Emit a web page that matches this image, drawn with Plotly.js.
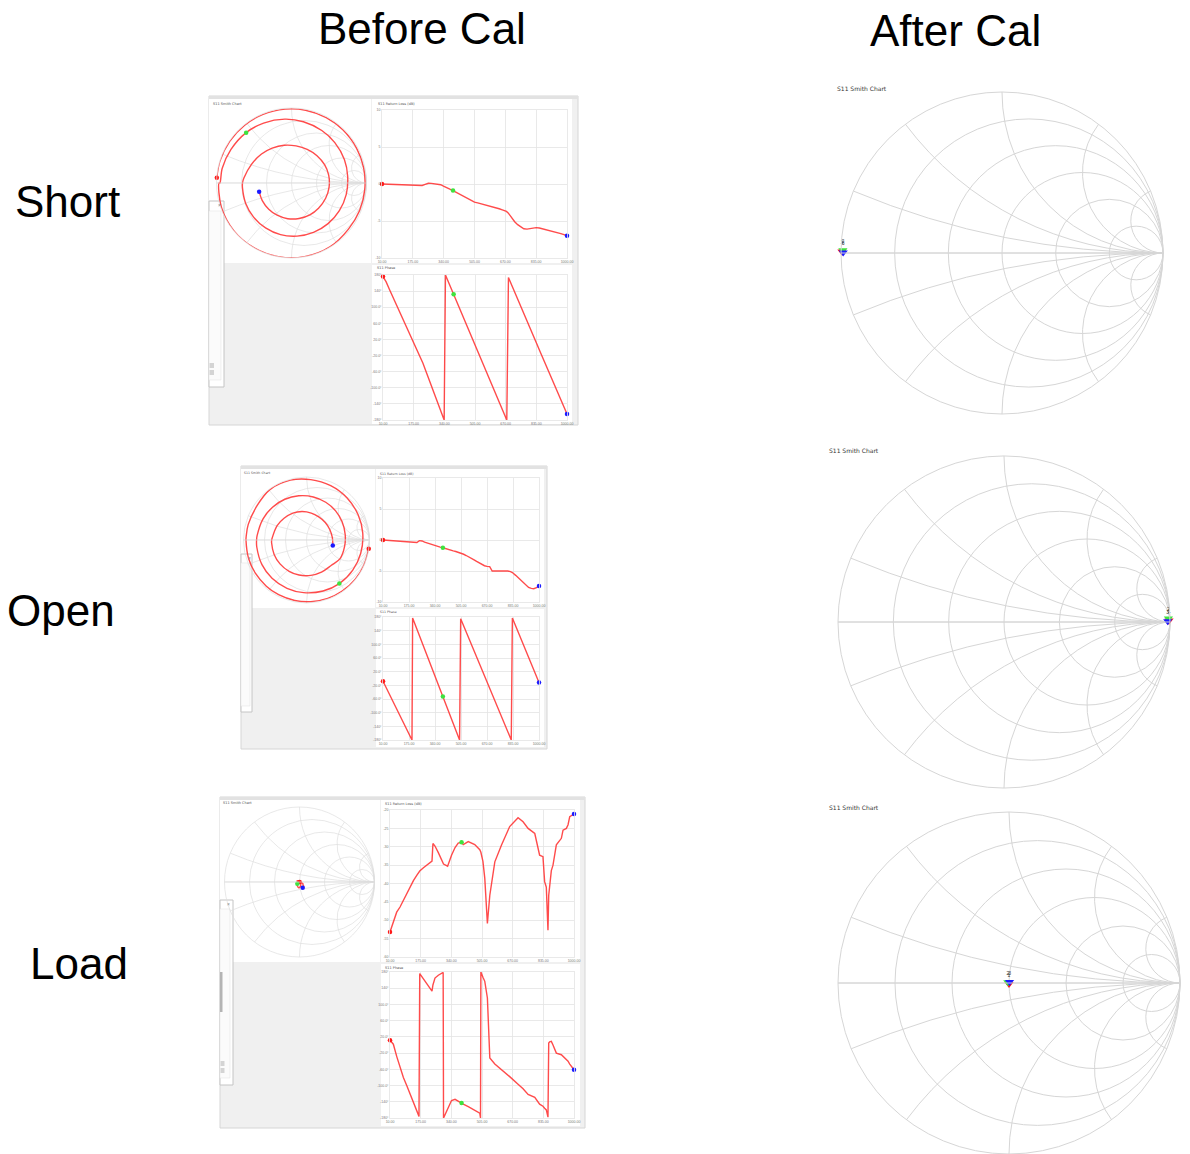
<!DOCTYPE html>
<html><head><meta charset="utf-8">
<script src="https://cdn.plot.ly/plotly-3.0.1.min.js"></script>
<style>html,body{margin:0;padding:0;background:#fff}#chart{width:1190px;height:1154px}</style>
</head><body><div id="chart"></div>
<script>
// ---------------- DATA ----------------
const freqTicks = [10, 175, 340, 505, 670, 835, 1000];
const freqTickText = ["10.00", "175.00", "340.00", "505.00", "670.00", "835.00", "1000.00"];
const rlTicks = [-10, -5, 0, 5, 10];
const rlTickText = ["-10", "-5", "0", "5", "10"];
const rlLoadTicks = [-60, -55, -50, -45, -40, -35, -30, -25, -20];
const rlLoadTickText = ["-60", "-55", "-50", "-45", "-40", "-35", "-30", "-25", "-20"];
const phaseTicks = [-180, -140, -100, -60, -20, 20, 60, 100, 140, 180];
const phaseTickText = ["-180°", "-140°", "-100.0°", "-60.0°", "-20.0°", "20.0°", "60.0°", "100.0°", "140°", "180°"];
const smithGridVals = [0.2, 0.5, 1, 2, 5];
const markerLabels = ["1", "2", "3"];

// Before Cal - Short
const shortFreq = [10,27,43,60,76,93,109,126,142,159,175,192,208,225,241,258,274,291,307,324,339,346,357,373,390,406,423,439,456,472,489,505,522,538,555,571,588,604,621,637,654,670,676,685,703,720,736,753,769,786,802,819,835,852,868,885,901,918,934,951,967,984,1000];
const shortRL = [0,-0.02,-0.05,-0.07,-0.08,-0.1,-0.1,-0.12,-0.13,-0.14,-0.15,-0.17,-0.18,-0.2,-0.05,0.1,0.08,0.05,0,-0.1,-0.3,-0.4,-0.5,-0.7,-0.88,-1.1,-1.35,-1.6,-1.85,-2.05,-2.25,-2.45,-2.55,-2.65,-2.75,-2.85,-2.95,-3.05,-3.2,-3.35,-3.5,-3.65,-3.7,-3.9,-4.6,-5.1,-5.5,-5.8,-6.05,-6.1,-6.05,-5.95,-5.9,-5.95,-6.05,-6.15,-6.2,-6.3,-6.4,-6.55,-6.7,-6.85,-7.0];
const shortPhase = [176,163,146,129,113,95,79,62,46,28,12,-5,-22,-39,-59,-80,-100,-121,-140,-161,-180,180,168,151,132,115,96,79,60,43,24,7,-12,-30,-48,-66,-84,-102,-120,-138,-156,-174,-180,174,155,136,119,101,83,65,47,29,12,-7,-24,-43,-60,-78,-96,-114,-131,-149,-165];
const shortMarkerFreq = [10, 390, 1000];

// Before Cal - Open
const openFreq = [10,27,43,60,76,93,109,126,142,159,175,194,198,208,225,241,258,274,291,307,324,340,357,373,390,406,423,439,456,472,489,496,503,522,538,555,571,588,604,621,637,654,670,687,703,720,736,753,769,786,802,819,824,831,852,868,885,901,918,934,951,967,984,1000];
const openRL = [0,-0.03,-0.06,-0.1,-0.13,-0.16,-0.19,-0.22,-0.25,-0.28,-0.31,-0.35,-0.36,-0.38,-0.4,-0.1,-0.15,-0.35,-0.5,-0.65,-0.8,-0.92,-1.05,-1.15,-1.25,-1.4,-1.55,-1.65,-1.75,-1.85,-1.97,-2.02,-2.08,-2.3,-2.5,-2.7,-2.95,-3.2,-3.45,-3.7,-3.95,-4.15,-4.25,-4.3,-5.0,-5.0,-4.95,-4.9,-4.9,-4.95,-5.0,-5.1,-5.15,-5.25,-5.7,-6.1,-6.4,-6.8,-7.25,-7.65,-7.8,-7.85,-7.7,-7.4];
const openPhase = [-8,-24,-39,-55,-70,-86,-101,-117,-131,-147,-162,-180,177,165,145,126,105,86,66,46,26,7,-14,-33,-53,-72,-93,-112,-132,-151,-172,-180,175,154,136,118,100,81,63,45,27,8,-10,-29,-46,-65,-83,-102,-119,-138,-156,-175,-180,177,154,136,117,99,80,62,43,25,6,-12];
const openMarkerFreq = [10, 390, 1000];

// Before Cal - Load
const loadFreq = [10,28,46,64,82,100,118,136,154,166,170,190,210,228,236,241,252,270,287,296,298,320,341,360,377,395,404,431,466,493,497,499,510,520,534,547,574,610,654,699,726,753,789,815,833,842,851,860,864,869,878,887,905,932,941,959,968,977,1000];
const loadRL = [-53.2,-50.5,-47.8,-46.4,-44.6,-42.6,-40.8,-39.2,-37.8,-36.9,-36.6,-35.7,-34.8,-34.1,-33.9,-29.1,-29.8,-31.6,-33.4,-34.5,-34.7,-35.3,-32.3,-30.2,-29.0,-28.8,-29.4,-28.6,-29.4,-30.8,-31.2,-31.5,-34.0,-38.6,-50.9,-43.2,-34.1,-29.5,-24.5,-22.1,-23.2,-25.0,-26.4,-32.3,-32.7,-39.5,-41.0,-52.7,-43.2,-40.0,-36.5,-35.0,-29.5,-27.7,-25.5,-25.0,-24.0,-21.8,-21.1];
const loadPhase = [12,2,-28,-55,-80,-100,-120,-138,-158,-176,176,163,150,138,133,148,165,172,176,179,-180,-158,-137,-134,-139,-143,-146,-152,-160,-168,-180,180,167,157,116,-32,-47,-60,-78,-97,-108,-122,-129,-146,-151,-156,-160,-178,5,8,9,0,-20,-24,-28,-36,-40,-47,-61];
const loadMarkerFreq = [10, 395, 1000];

// After Cal (S11 near ideal standards)
const afterFreq = [10, 257, 505, 752, 1000];
const afterShortRL = [-0.05, -0.08, -0.10, -0.06, -0.12];
const afterShortPhase = [179.5, -179.6, 179.0, -179.2, 179.8];
const afterOpenRL = [-0.05, -0.10, -0.08, -0.15, -0.12];
const afterOpenPhase = [0.5, -0.8, 1.2, -0.5, 0.3];
const afterLoadRL = [-45, -40, -42, -38, -44];
const afterLoadPhase = [-90, 30, 150, -150, 60];
const afterMarkerFreq = [10, 505, 1000];

// ---------------- HELPERS ----------------
const W = 1190, H = 1154;
const px = x => x / W;
const py = y => 1 - y / H;
const RED = 'rgba(255,55,55,0.9)';
const MC = ['#ff1a1a', '#3ee23e', '#1a1aff'];

function toZ(rl, ph) {
  const m = Math.min(Math.pow(10, rl / 20), 0.998);
  const a = m * Math.cos(ph * Math.PI / 180), b = m * Math.sin(ph * Math.PI / 180);
  const d = (1 - a) * (1 - a) + b * b;
  return [(1 - a * a - b * b) / d, 2 * b / d];
}
function nearestIdx(arr, v) {
  let best = 0;
  arr.forEach((f, i) => { if (Math.abs(f - v) < Math.abs(arr[best] - v)) best = i; });
  return best;
}

const traces = [];
function addBefore(freq, rl, ph, mfreq, smithId, xa, ya, xb, yb) {
  const z = freq.map((f, i) => toZ(rl[i], ph[i]));
  const re = z.map(v => v[0]), im = z.map(v => v[1]);
  const mi = mfreq.map(v => nearestIdx(freq, v));
  traces.push({type: 'scattersmith', subplot: smithId, real: re, imag: im, mode: 'lines', line: {color: RED, width: 1.4, shape: 'spline', smoothing: 1}});
  traces.push({type: 'scattersmith', subplot: smithId, real: mi.map(i => re[i]), imag: mi.map(i => im[i]), mode: 'markers', marker: {color: MC, size: 4.5}});
  traces.push({type: 'scatter', x: freq, y: rl, xaxis: xa, yaxis: ya, mode: 'lines', line: {color: RED, width: 1.4}, cliponaxis: false});
  traces.push({type: 'scatter', x: mi.map(i => freq[i]), y: mi.map(i => rl[i]), xaxis: xa, yaxis: ya, mode: 'markers', marker: {color: MC, size: 4.5}, cliponaxis: false});
  traces.push({type: 'scatter', x: freq, y: ph, xaxis: xb, yaxis: yb, mode: 'lines', line: {color: RED, width: 1.4}, cliponaxis: false});
  traces.push({type: 'scatter', x: mi.map(i => freq[i]), y: mi.map(i => ph[i]), xaxis: xb, yaxis: yb, mode: 'markers', marker: {color: MC, size: 4.5}, cliponaxis: false});
}
function addAfter(freq, rl, ph, mfreq, smithId) {
  const z = freq.map((f, i) => toZ(rl[i], ph[i]));
  const re = z.map(v => v[0]), im = z.map(v => v[1]);
  const mi = mfreq.map(v => nearestIdx(freq, v));
  traces.push({type: 'scattersmith', subplot: smithId, real: re, imag: im, mode: 'lines', line: {color: RED, width: 1.5}});
  traces.push({type: 'scattersmith', subplot: smithId, real: mi.map(i => re[i]), imag: mi.map(i => im[i]), mode: 'markers+text',
    text: markerLabels, textposition: 'top center', textfont: {size: 5, color: '#333'},
    marker: {color: MC, size: 8, symbol: 'triangle-down'}});
}

addBefore(shortFreq, shortRL, shortPhase, shortMarkerFreq, 'smith', 'x', 'y', 'x2', 'y2');
addBefore(openFreq, openRL, openPhase, openMarkerFreq, 'smith2', 'x3', 'y3', 'x4', 'y4');
addBefore(loadFreq, loadRL, loadPhase, loadMarkerFreq, 'smith3', 'x5', 'y5', 'x6', 'y6');
addAfter(afterFreq, afterShortRL, afterShortPhase, afterMarkerFreq, 'smith4');
addAfter(afterFreq, afterOpenRL, afterOpenPhase, afterMarkerFreq, 'smith5');
addAfter(afterFreq, afterLoadRL, afterLoadPhase, afterMarkerFreq, 'smith6');

// ---------------- LAYOUT ----------------
function smithLayout(cx, cy, r, grid, lw) {
  const imagVals = smithGridVals.map(v => -v).reverse().concat([0], smithGridVals);
  return {
    domain: {x: [px(cx - r), px(cx + r)], y: [py(cy + r), py(cy - r)]},
    bgcolor: 'rgba(0,0,0,0)',
    realaxis: {tickvals: smithGridVals, showticklabels: false, ticks: '', gridcolor: grid, gridwidth: lw, linecolor: grid, linewidth: lw, showline: true},
    imaginaryaxis: {tickvals: imagVals, showticklabels: false, ticks: '', gridcolor: grid, gridwidth: lw, linecolor: grid, linewidth: lw, showline: true}
  };
}
const tickFont = {size: 3.5, color: '#777'};
function xAx(x0, x1, anchor) {
  return {domain: [px(x0), px(x1)], anchor: anchor, range: [10, 1000], tickvals: freqTicks, ticktext: freqTickText,
    tickfont: tickFont, showgrid: true, gridcolor: '#e4e4e4', gridwidth: 0.8, zeroline: false, showline: true,
    linecolor: '#e4e4e4', linewidth: 0.8, mirror: true, ticks: '', fixedrange: true};
}
function yAx(y0, y1, anchor, range, tv, tt) {
  return {domain: [py(y1), py(y0)], anchor: anchor, range: range, tickvals: tv, ticktext: tt,
    tickfont: tickFont, showgrid: true, gridcolor: '#e4e4e4', gridwidth: 0.8, zeroline: false, showline: true,
    linecolor: '#e4e4e4', linewidth: 0.8, mirror: true, ticks: '', fixedrange: true};
}

const shapes = [];
function rect(x0, y0, x1, y1, fill, line, lw) {
  shapes.push({type: 'rect', xref: 'paper', yref: 'paper', x0: px(x0), x1: px(x1), y0: py(y1), y1: py(y0),
    fillcolor: fill, line: {color: line || 'rgba(0,0,0,0)', width: lw || 0}, layer: 'below'});
}
// Short panel
rect(209, 96, 578, 425, '#f0f0f0', '#d6d6d6', 1);
rect(209, 96, 578, 99, '#e2e2e2');
rect(209, 99, 371, 263, '#ffffff');
rect(372, 99, 572, 263, '#ffffff');
rect(372, 265, 572, 424, '#ffffff');
rect(209, 201, 224, 387, '#ffffff', '#c4c4c4', 1);
rect(209, 211, 221, 380, '#fbfbfb', '#e6e6e6', 0.6);
rect(209.5, 363, 214, 368, '#d4d4d4');
rect(209.5, 370, 214, 375, '#d4d4d4');
// Open panel
rect(241, 466, 547, 749, '#f0f0f0', '#d6d6d6', 1);
rect(241, 466, 547, 469, '#e2e2e2');
rect(241, 469, 375, 608, '#ffffff');
rect(376, 469, 544, 607, '#ffffff');
rect(376, 609, 544, 747, '#ffffff');
rect(241, 554, 252, 712, '#ffffff', '#c4c4c4', 1);
rect(241, 563, 250, 706, '#fbfbfb', '#e6e6e6', 0.6);
// Load panel
rect(220, 797, 585, 1128, '#f0f0f0', '#d6d6d6', 1);
rect(220, 797, 585, 800, '#e2e2e2');
rect(220, 800, 380, 962, '#ffffff');
rect(381, 800, 580, 962, '#ffffff');
rect(381, 964, 580, 1126, '#ffffff');
rect(220, 900, 233, 1085, '#ffffff', '#c4c4c4', 1);
rect(220, 909, 230, 1078, '#fbfbfb', '#e6e6e6', 0.6);
rect(220, 972, 222.5, 1012, '#b4b4b4');
rect(220.5, 1061, 224.5, 1066, '#d4d4d4');
rect(220.5, 1068, 224.5, 1073, '#d4d4d4');

const annotations = [];
function txt(x, y, s, size, color, xanchor, family) {
  annotations.push({xref: 'paper', yref: 'paper', x: px(x), y: py(y), text: s, showarrow: false,
    xanchor: xanchor || 'center', yanchor: 'middle', font: {size: size, color: color || '#000', family: family || 'Liberation Sans, Arial, sans-serif'}});
}
txt(422, 28, 'Before Cal', 44);
txt(955, 30, 'After Cal', 44);
txt(67, 202, 'Short', 44);
txt(61, 610, 'Open', 44);
txt(79, 963, 'Load', 44);
const smallFam = 'DejaVu Sans, sans-serif';
txt(211, 104, 'S11 Smith Chart', 3.5, '#555', 'left', smallFam);
txt(376, 104, 'S11 Return Loss (dB)', 3.5, '#555', 'left', smallFam);
txt(375, 268, 'S11 Phase', 3.5, '#555', 'left', smallFam);
txt(242, 473, 'S11 Smith Chart', 3.2, '#555', 'left', smallFam);
txt(378, 474, 'S11 Return Loss (dB)', 3.2, '#555', 'left', smallFam);
txt(378, 612, 'S11 Phase', 3.2, '#555', 'left', smallFam);
txt(221, 803, 'S11 Smith Chart', 3.5, '#555', 'left', smallFam);
txt(383, 804, 'S11 Return Loss (dB)', 3.5, '#555', 'left', smallFam);
txt(383, 968, 'S11 Phase', 3.5, '#555', 'left', smallFam);
txt(219, 205, '×', 5, '#888');
txt(249, 558, '×', 5, '#888');
txt(228, 904, '×', 5, '#888');
txt(835, 88, 'S11 Smith Chart', 6, '#333', 'left', smallFam);
txt(827, 450, 'S11 Smith Chart', 6, '#333', 'left', smallFam);
txt(827, 807, 'S11 Smith Chart', 6, '#333', 'left', smallFam);

const layout = {
  width: W, height: H, margin: {l: 0, r: 0, t: 0, b: 0},
  paper_bgcolor: '#ffffff', plot_bgcolor: 'rgba(0,0,0,0)', showlegend: false, hovermode: false,
  font: {family: 'Liberation Sans, Arial, sans-serif'},
  smith: smithLayout(291.5, 183, 75, '#dedede', 0.7),
  smith2: smithLayout(306.5, 540, 63, '#dedede', 0.7),
  smith3: smithLayout(299.5, 882, 75, '#dedede', 0.7),
  smith4: smithLayout(1002, 253, 161, '#d6d6d6', 1),
  smith5: smithLayout(1004, 622, 166, '#d6d6d6', 1),
  smith6: smithLayout(1009, 983, 171, '#d6d6d6', 1),
  xaxis: xAx(382, 567, 'y'), yaxis: yAx(110, 258, 'x', [-10, 10], rlTicks, rlTickText),
  xaxis2: xAx(383, 567, 'y2'), yaxis2: yAx(275, 420, 'x2', [-180, 180], phaseTicks, phaseTickText),
  xaxis3: xAx(383, 539, 'y3'), yaxis3: yAx(478, 602, 'x3', [-10, 10], rlTicks, rlTickText),
  xaxis4: xAx(383, 539, 'y4'), yaxis4: yAx(617, 740, 'x4', [-180, 180], phaseTicks, phaseTickText),
  xaxis5: xAx(390, 574, 'y5'), yaxis5: yAx(810, 957, 'x5', [-60, -20], rlLoadTicks, rlLoadTickText),
  xaxis6: xAx(390, 574, 'y6'), yaxis6: yAx(972, 1118, 'x6', [-180, 180], phaseTicks, phaseTickText),
  shapes: shapes, annotations: annotations
};
Plotly.newPlot('chart', traces, layout, {staticPlot: true, displayModeBar: false});
</script>
</body></html>
